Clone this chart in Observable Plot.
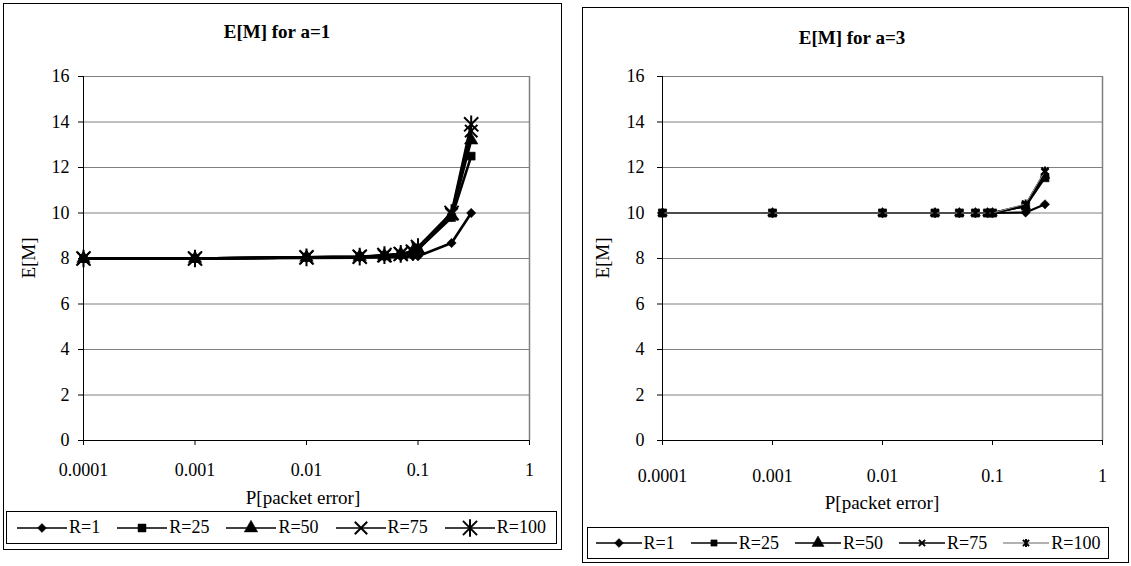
<!DOCTYPE html>
<html><head><meta charset="utf-8">
<script src="https://cdn.jsdelivr.net/npm/d3@7"></script>
<script src="https://cdn.jsdelivr.net/npm/@observablehq/plot@0.6"></script>
<style>
*{font-family:"Liberation Serif",serif;}
body{margin:0;background:#fff;color:#000;}
#root{position:relative;width:1131px;height:566px;overflow:hidden;background:#fff;}
.box{position:absolute;border:1px solid #000;box-sizing:border-box;}
.txt{position:absolute;white-space:nowrap;transform:translate(-50%,-50%);font-size:19px;}
.ttl{font-weight:bold;font-size:19px;}
.ylab{transform:translate(-50%,-50%) rotate(-90deg);}
.legend{position:absolute;border:1px solid #000;box-sizing:border-box;display:flex;align-items:center;justify-content:center;font-size:18px;}
.item{display:flex;align-items:center;}
.item svg{display:block;}
.plot{position:absolute;}
</style>
</head><body><div id="root"></div>
<script>
// ---- data ----
const pValues = [0.0001, 0.001, 0.01, 0.03, 0.05, 0.07, 0.09, 0.1, 0.2, 0.3];
const seriesNames = ["R=1", "R=25", "R=50", "R=75", "R=100"];
const yTicks = [0, 2, 4, 6, 8, 10, 12, 14, 16];
const xTicks = [0.0001, 0.001, 0.01, 0.1, 1];
const xTickLabels = ["0.0001", "0.001", "0.01", "0.1", "1"];
const titles = ["E[M] for a=1", "E[M] for a=3"];
const xLabel = "P[packet error]";
const yLabel = "E[M]";

// a = 1
const a1_R1   = [8.0, 8.0, 8.02, 8.04, 8.06, 8.08, 8.1, 8.1, 8.68, 10.0];
const a1_R25  = [8.0, 8.0, 8.05, 8.08, 8.12, 8.18, 8.3, 8.4, 9.8, 12.5];
const a1_R50  = [8.0, 8.0, 8.05, 8.08, 8.12, 8.2, 8.3, 8.4, 9.9, 13.2];
const a1_R75  = [8.0, 8.0, 8.05, 8.08, 8.12, 8.2, 8.3, 8.45, 9.95, 13.6];
const a1_R100 = [8.0, 8.0, 8.05, 8.08, 8.15, 8.2, 8.3, 8.5, 10.0, 13.9];
// a = 3
const a3_R1   = [10.0, 10.0, 10.0, 10.0, 10.0, 10.0, 10.0, 10.0, 10.02, 10.38];
const a3_R25  = [10.0, 10.0, 10.0, 10.0, 10.0, 10.0, 10.0, 10.0, 10.3, 11.55];
const a3_R50  = [10.0, 10.0, 10.0, 10.0, 10.0, 10.0, 10.0, 10.0, 10.3, 11.65];
const a3_R75  = [10.0, 10.0, 10.0, 10.0, 10.0, 10.0, 10.0, 10.0, 10.35, 11.8];
const a3_R100 = [10.0, 10.0, 10.0, 10.0, 10.0, 10.0, 10.0, 10.0, 10.4, 11.85];

// ---- symbols ----
const timesSym = {draw(ctx, size){ const r = Math.sqrt(size) / 2;
  ctx.moveTo(-r, -r); ctx.lineTo(r, r); ctx.moveTo(r, -r); ctx.lineTo(-r, r); }};
const starSym = {draw(ctx, size){ const r = Math.sqrt(size) / 2;
  ctx.moveTo(-r, -r); ctx.lineTo(r, r); ctx.moveTo(r, -r); ctx.lineTo(-r, r);
  ctx.moveTo(0, -r * 1.25); ctx.lineTo(0, r * 1.25); }};
const symTypes = [d3.symbolDiamond2, d3.symbolSquare, d3.symbolTriangle, timesSym, starSym];
const filled = [true, true, true, false, false];

const FONT = "Liberation Serif";

const panels = [
  {series: [a1_R1, a1_R25, a1_R50, a1_R75, a1_R100], title: titles[0],
   border: [3, 3, 559, 547], svg: [0, 0, 560, 520], margin: {l: 83, r: 31, t: 76, b: 80},
   titleXY: [277, 32], ylabXY: [29, 258], xlabXY: [303, 498], tickPad: 18, yPad: 9,
   legend: [6, 511, 551, 33], lineW: 50, gap: 17,
   r: [4.2, 4.5, 5, 7, 8], lw: [2.6, 2.6, 2.6, 2.6, 2.6],
   lineColor: ["#000", "#000", "#000", "#000", "#000"], legLine: ["#000","#000","#000","#000","#000"], legR: [4, 4.5, 5, 7, 8]},
  {series: [a3_R1, a3_R25, a3_R50, a3_R75, a3_R100], title: titles[1],
   border: [582, 7, 547, 556], svg: [582, 0, 545, 520], margin: {l: 80, r: 25, t: 76, b: 80},
   titleXY: [852, 38], ylabXY: [603, 258], xlabXY: [882, 503], tickPad: 24, yPad: 13,
   legend: [587, 527, 522, 32], lineW: 46, gap: 16,
   r: [4.2, 4.6, 3.6, 4, 4], lw: [2.2, 2.2, 2.2, 2.2, 1],
   lineColor: ["#000", "#000", "#000", "#000", "#999"], legLine: ["#000","#000","#000","#000","#999"], legR: [4, 3.5, 4.5, 3.5, 3.5]}
];

const root = document.getElementById("root");

function addDiv(cls, x, y, text) {
  const d = document.createElement("div");
  d.className = cls; d.style.left = x + "px"; d.style.top = y + "px";
  d.textContent = text; root.appendChild(d); return d;
}

panels.forEach((cfg) => {
  const b = document.createElement("div");
  b.className = "box";
  Object.assign(b.style, {left: cfg.border[0] + "px", top: cfg.border[1] + "px", width: cfg.border[2] + "px", height: cfg.border[3] + "px"});
  root.appendChild(b);

  const rows = [];
  cfg.series.forEach((vals, i) => vals.forEach((v, j) => rows.push({p: pValues[j], m: v, s: seriesNames[i]})));

  const marks = [
    Plot.ruleY(yTicks.filter(d => d > 0), {stroke: "#808080", strokeWidth: 1}),
    Plot.ruleX([1], {stroke: "#808080", strokeWidth: 1.5}),
    Plot.ruleY([0], {stroke: "#000", strokeWidth: 1}),
    Plot.ruleX([0.0001], {stroke: "#000", strokeWidth: 1}),
    Plot.axisY({ticks: yTicks, tickSize: 5, tickPadding: cfg.yPad, fontSize: 18, label: null, stroke: "#000"}),
    Plot.axisX({ticks: xTicks, tickSize: 5, tickPadding: cfg.tickPad, fontSize: 18, label: null,
                tickFormat: (d) => xTickLabels[xTicks.indexOf(d)], stroke: "#000"})
  ];
  seriesNames.forEach((name, i) => {
    const data = rows.filter(r => r.s === name);
    marks.push(Plot.line(data, {x: "p", y: "m", stroke: cfg.lineColor[i], strokeWidth: cfg.lw[i]}));
    marks.push(Plot.dot(data, {x: "p", y: "m", symbol: symTypes[i], r: cfg.r[i],
      fill: filled[i] ? "#000" : "none", stroke: "#000", strokeWidth: filled[i] ? 0.5 : 2}));
  });

  const svg = Plot.plot({
    width: cfg.svg[2], height: cfg.svg[3],
    marginLeft: cfg.margin.l, marginRight: cfg.margin.r, marginTop: cfg.margin.t, marginBottom: cfg.margin.b,
    style: {background: "transparent", overflow: "visible", color: "#000", fontFamily: FONT},
    x: {type: "log", domain: [0.0001, 1]},
    y: {domain: [0, 16]},
    marks
  });
  svg.setAttribute("font-family", FONT);
  svg.classList.add("plot");
  svg.style.left = cfg.svg[0] + "px"; svg.style.top = cfg.svg[1] + "px";
  root.appendChild(svg);

  addDiv("txt ttl", cfg.titleXY[0], cfg.titleXY[1], cfg.title);
  addDiv("txt ylab", cfg.ylabXY[0], cfg.ylabXY[1], yLabel);
  addDiv("txt", cfg.xlabXY[0], cfg.xlabXY[1], xLabel);

  const lg = document.createElement("div");
  lg.className = "legend";
  Object.assign(lg.style, {left: cfg.legend[0] + "px", top: cfg.legend[1] + "px", width: cfg.legend[2] + "px", height: cfg.legend[3] + "px"});
  seriesNames.forEach((name, i) => {
    const it = document.createElement("div"); it.className = "item";
    it.style.margin = "0 " + cfg.gap / 2 + "px";
    const W = cfg.lineW;
    const s = d3.create("svg").attr("width", W).attr("height", 20);
    s.append("line").attr("x1", 0).attr("x2", W).attr("y1", 10).attr("y2", 10)
      .attr("stroke", cfg.legLine[i]).attr("stroke-width", 1.5);
    const rr = cfg.legR[i];
    s.append("path").attr("transform", `translate(${W / 2},10)`)
      .attr("d", d3.symbol().type(symTypes[i]).size(Math.PI * rr * rr)())
      .attr("fill", filled[i] ? "#000" : "none").attr("stroke", "#000").attr("stroke-width", filled[i] ? 0.5 : 2);
    it.appendChild(s.node());
    const t = document.createElement("span"); t.textContent = name; t.style.marginLeft = "2px";
    it.appendChild(t);
    lg.appendChild(it);
  });
  root.appendChild(lg);
});
</script>
</body></html>
